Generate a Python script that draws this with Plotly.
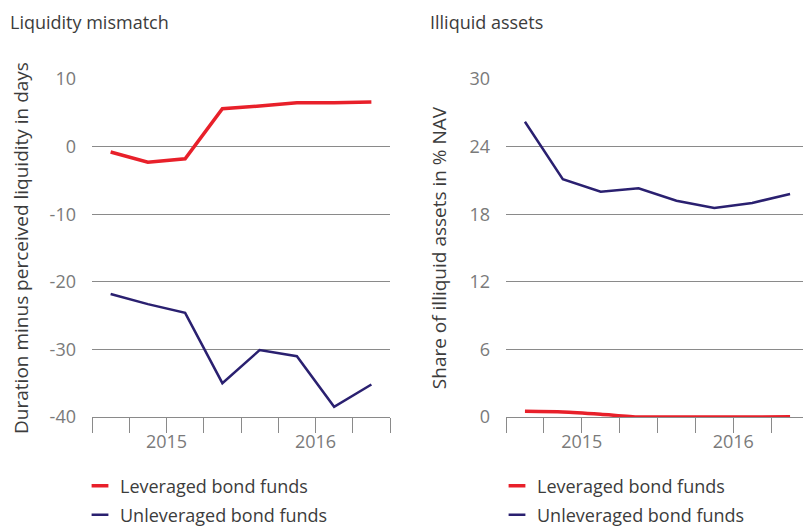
import plotly.graph_objects as go

# ---- data ----
quarters = [0.5, 1.5, 2.5, 3.5, 4.5, 5.5, 6.5, 7.5]  # 2014Q3 .. 2016Q2 (interval centres)
tick_positions = [0, 1, 2, 3, 4, 5, 6, 7, 8]
tick_labels = ["", "", "2015", "", "", "", "2016", "", ""]

mismatch_ticks = [-40, -30, -20, -10, 0, 10]
mismatch_tick_labels = ["-40", "-30", "-20", "-10", "0", "10"]
illiquid_ticks = [0, 6, 12, 18, 24, 30]
illiquid_tick_labels = ["0", "6", "12", "18", "24", "30"]

mismatch_leveraged = [-0.8, -2.3, -1.8, 5.6, 6.0, 6.5, 6.5, 6.6]
mismatch_unleveraged = [-21.8, -23.3, -24.6, -35.0, -30.1, -31.0, -38.5, -35.2]

illiquid_leveraged = [0.5, 0.45, 0.25, 0.0, 0.0, 0.0, 0.0, 0.03]
illiquid_unleveraged = [26.2, 21.1, 20.0, 20.3, 19.2, 18.55, 19.0, 19.8]

series_names = ["Leveraged bond funds", "Unleveraged bond funds"]

RED = "#E8202A"
NAVY = "#2A2070"
GRID = "#8a8a8a"
TICKTXT = "#7a7a7a"
TXT = "#3c3c3c"
FONT = "Open Sans"

W, H = 811, 526
OFF = 8  # page body margin offset


def px_x(p):
    return (p - OFF) / W


def px_y(p):
    return 1 - (p - OFF) / H


fig = go.Figure()

# left panel
fig.add_trace(go.Scatter(x=quarters, y=mismatch_leveraged, mode="lines",
                         line=dict(color=RED, width=3.5), xaxis="x", yaxis="y",
                         showlegend=False, hoverinfo="skip"))
fig.add_trace(go.Scatter(x=quarters, y=mismatch_unleveraged, mode="lines",
                         line=dict(color=NAVY, width=2.5), xaxis="x", yaxis="y",
                         showlegend=False, hoverinfo="skip"))
# right panel
fig.add_trace(go.Scatter(x=quarters, y=illiquid_leveraged, mode="lines",
                         line=dict(color=RED, width=3.5, shape="spline", smoothing=0.6),
                         xaxis="x2", yaxis="y2", showlegend=False, hoverinfo="skip"))
fig.add_trace(go.Scatter(x=quarters, y=illiquid_unleveraged, mode="lines",
                         line=dict(color=NAVY, width=2.5), xaxis="x2", yaxis="y2",
                         showlegend=False, hoverinfo="skip"))

# legend entries (short line samples)
legend_ids = [("legend", "legend2"), ("legend3", "legend4")]
colors = [RED, NAVY]
widths = [3.5, 2.5]
for panel, (xa, ya) in enumerate([("x", "y"), ("x2", "y2")]):
    for i, name in enumerate(series_names):
        fig.add_trace(go.Scatter(
            x=[None], y=[None], mode="markers", name=name,
            marker=dict(symbol="line-ew", size=12, color=colors[i],
                        line=dict(color=colors[i], width=widths[i])),
            xaxis=xa, yaxis=ya, legend=legend_ids[panel][i], showlegend=True))

xaxis_common = dict(range=[0, 8], tickvals=tick_positions, ticktext=tick_labels,
                    ticks="outside", ticklen=15, tickcolor=GRID, tickwidth=1,
                    ticklabelstandoff=-7,
                    showline=True, linecolor=GRID, linewidth=1, showgrid=False,
                    zeroline=False, tickfont=dict(family=FONT, size=18, color=TICKTXT),
                    fixedrange=True, automargin=False)
yaxis_common = dict(showgrid=True, gridcolor=GRID, gridwidth=1, zeroline=False,
                    showline=False, ticks="", ticklabelstandoff=15,
                    tickfont=dict(family=FONT, size=18, color=TICKTXT), fixedrange=True,
                    automargin=False)

ydom = [px_y(417), px_y(79)]


def legend_cfg(xpx, ypx):
    return dict(x=px_x(xpx), y=px_y(ypx), xanchor="left", yanchor="middle",
                bgcolor="rgba(0,0,0,0)", borderwidth=0,
                font=dict(family=FONT, size=18, color=TXT), itemwidth=30)


fig.update_layout(
    width=W, height=H,
    margin=dict(l=0, r=0, t=0, b=0, autoexpand=False),
    paper_bgcolor="white", plot_bgcolor="white",
    font=dict(family=FONT, color=TXT),
    xaxis=dict(domain=[px_x(92), px_x(390)], anchor="y", **xaxis_common),
    yaxis=dict(domain=ydom, anchor="x", range=[-40, 10],
               tickvals=mismatch_ticks, ticktext=mismatch_tick_labels,
               title=dict(text="Duration minus perceived liquidity in days",
                          font=dict(family=FONT, size=19, color=TXT), standoff=29),
               **yaxis_common),
    xaxis2=dict(domain=[px_x(506), px_x(809)], anchor="y2", **xaxis_common),
    yaxis2=dict(domain=ydom, anchor="x2", range=[0, 30],
                tickvals=illiquid_ticks, ticktext=illiquid_tick_labels,
                title=dict(text="Share of illiquid assets in % NAV",
                           font=dict(family=FONT, size=19, color=TXT), standoff=17),
                **yaxis_common),
    legend=legend_cfg(80, 486),
    legend2=legend_cfg(80, 515),
    legend3=legend_cfg(497, 486),
    legend4=legend_cfg(497, 515),
    annotations=[
        dict(text="Liquidity mismatch", x=px_x(8), y=px_y(8), xref="paper", yref="paper",
             xanchor="left", yanchor="top", showarrow=False,
             font=dict(family=FONT, size=18, color=TXT)),
        dict(text="Illiquid assets", x=px_x(428), y=px_y(8), xref="paper", yref="paper",
             xanchor="left", yanchor="top", showarrow=False,
             font=dict(family=FONT, size=18, color=TXT)),
    ],
)

fig.write_html("out.html")
